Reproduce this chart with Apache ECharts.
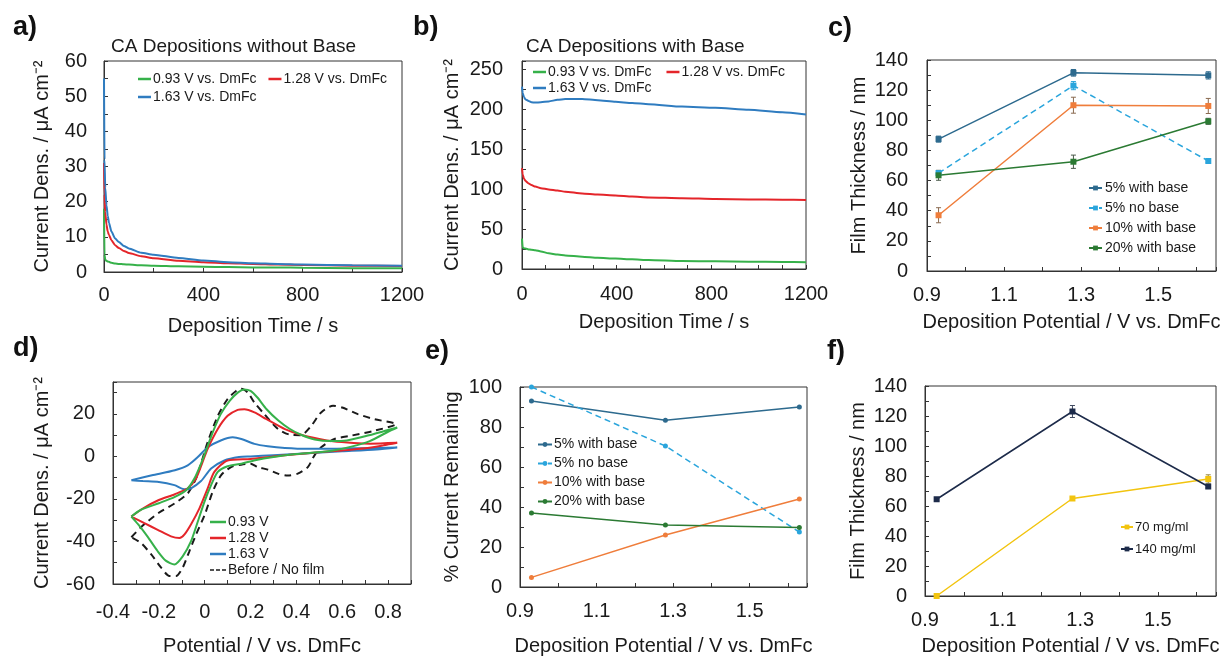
<!DOCTYPE html>
<html>
<head>
<meta charset="utf-8">
<title>Deposition panels</title>
<script src="https://cdn.jsdelivr.net/npm/echarts@6/dist/echarts.min.js"></script>
<style>
  html, body { margin: 0; padding: 0; background: #fff; }
  #chart { width: 1227px; height: 657px; }
</style>
</head>
<body>
<div id="chart"></div>
<script>
// a) CA depositions without base (time in s, current in uA/cm2)
const aTime = [0, 2, 5, 10, 15, 20, 30, 45, 60, 80, 100, 150, 200, 300, 400, 500, 600, 700, 800, 1000, 1200]
const aGreen = [18, 5, 3.5, 3.2, 3, 2.9, 2.6, 2.4, 2.3, 2.2, 2.1, 1.9, 1.8, 1.6, 1.5, 1.4, 1.3, 1.3, 1.2, 1.1, 1.1]
const aRed = [31, 22, 17, 13.5, 11.5, 10.5, 9, 7.6, 6.8, 6, 5.4, 4.5, 3.9, 3.2, 2.8, 2.5, 2.3, 2.1, 2, 1.8, 1.7]
const aBlue = [55, 32, 24, 19, 16, 14, 11.5, 9.5, 8.5, 7.4, 6.7, 5.5, 4.9, 4, 3.3, 2.8, 2.5, 2.3, 2.1, 1.9, 1.8]

// b) CA depositions with base
const bTime = [0, 3, 8, 15, 28, 40, 56, 80, 113, 150, 183, 254, 320, 395, 465, 535, 676, 817, 958, 1100, 1200]
const bGreen = [38, 27, 26, 25.5, 24.5, 24, 23.5, 22, 19.6, 18, 17, 15.4, 14, 13, 12.1, 11.3, 10, 9.6, 9.2, 8.8, 8.4]
const bRed = [126, 118, 113, 110, 107, 105, 103, 101, 99.5, 98, 96.7, 94.5, 93, 92, 90.5, 89.5, 88.5, 87.5, 87, 86.6, 86.3]
const bBlue = [228, 220, 215, 212, 210, 208.5, 208, 208.5, 209.5, 211.5, 212.5, 212.5, 211, 209, 207.5, 206, 203, 201.5, 199, 196, 193]

// c) film thickness vs deposition potential
const cPot = [0.93, 1.28, 1.63]
const c5Base = [87.5, 131.5, 129.8]
const c5BaseErr = [2, 2.2, 2.4]
const c5NoBase = [65, 123, 73]
const c5NoBaseErr = [1.5, 2.7, 1]
const c10Base = [37, 110, 109.5]
const c10BaseErr = [5, 5.3, 5]
const c20Base = [63.5, 72.5, 99.3]
const c20BaseErr = [3.3, 4.4, 2]

// d) cyclic voltammograms [potential, current]
const dGreen = [[-0.32,-28.3],[-0.28,-25.2],[-0.2,-22],[-0.13,-19],[-0.08,-15.8],[-0.045,-10.4],[-0.016,-3.4],[0.006,2.8],[0.035,11.3],[0.07,19.9],[0.108,26],[0.144,30],[0.173,31.5],[0.2,30.8],[0.23,27.7],[0.27,22.2],[0.32,17],[0.37,13],[0.42,10.2],[0.48,8],[0.55,7.2],[0.62,7.5],[0.7,9.5],[0.78,11.8],[0.84,13.6],
  [0.8,11.6],[0.72,7.2],[0.64,4.6],[0.56,2.8],[0.48,1.8],[0.4,1.1],[0.3,-0.3],[0.22,-1.8],[0.16,-3.4],[0.1,-4.6],[0.057,-7.3],[0.028,-13.5],[0,-21],[-0.03,-30.6],[-0.06,-40],[-0.096,-47],[-0.132,-50.8],[-0.17,-49],[-0.205,-44.6],[-0.25,-37.6],[-0.29,-32],[-0.32,-28.3]]
const dRed = [[-0.32,-28.3],[-0.27,-24.5],[-0.2,-20.5],[-0.13,-17.8],[-0.074,-15],[-0.038,-10.4],[-0.009,-2.6],[0.013,3.6],[0.057,12.9],[0.1,19.1],[0.144,21.9],[0.173,22.2],[0.217,20.7],[0.268,17.6],[0.35,12.8],[0.42,10.2],[0.5,8.2],[0.56,7.1],[0.65,6.3],[0.72,6],[0.84,6.4],
  [0.78,5.2],[0.7,3.8],[0.6,2.8],[0.5,2],[0.4,1],[0.3,0],[0.2,-1.2],[0.1,-1.9],[0.042,-7.3],[0.013,-15],[-0.023,-24.4],[-0.06,-32],[-0.089,-36.8],[-0.11,-38.4],[-0.147,-37.6],[-0.205,-34.5],[-0.263,-31.4],[-0.32,-28.3]]
const dBlue = [[-0.32,-11.2],[-0.23,-8.9],[-0.13,-6.5],[-0.074,-4.2],[-0.03,-0.3],[0.013,4.3],[0.07,7.5],[0.122,9],[0.16,8.2],[0.217,5.9],[0.275,4.8],[0.35,4],[0.45,3.6],[0.55,3.6],[0.65,3.8],[0.75,4],[0.84,4.2],
  [0.75,3.3],[0.6,2.4],[0.45,1.5],[0.3,0.6],[0.2,0],[0.15,-0.3],[0.086,-1.9],[0.028,-5.7],[-0.016,-11.6],[-0.06,-15],[-0.09,-15.4],[-0.132,-13.5],[-0.2,-12],[-0.27,-11.6],[-0.32,-11.2]]
const dBefore = [[-0.32,-38],[-0.27,-32.5],[-0.2,-26.5],[-0.13,-22],[-0.074,-17.4],[-0.038,-10.4],[-0.016,-3.4],[0.013,6.7],[0.057,19],[0.1,27],[0.137,30.8],[0.159,31.8],[0.188,30],[0.217,25.3],[0.26,19.9],[0.32,12.9],[0.377,10.1],[0.42,10],[0.465,14.4],[0.508,20.7],[0.56,23.8],[0.6,23],[0.668,19.9],[0.741,17.5],[0.835,15.2],
  [0.741,12.1],[0.64,9.8],[0.566,8.2],[0.508,4.3],[0.479,0.5],[0.45,-5],[0.406,-8.1],[0.362,-9],[0.319,-8.1],[0.275,-6.2],[0.231,-5],[0.2,-3.4],[0.159,-3.9],[0.115,-5],[0.071,-8.9],[0.035,-16.6],[0,-27.5],[-0.038,-36.8],[-0.067,-44.6],[-0.096,-52.3],[-0.125,-56.2],[-0.154,-56.2],[-0.19,-52.3],[-0.234,-46],[-0.278,-40.7],[-0.32,-38]]

// e) % current remaining
const ePot = [0.93, 1.28, 1.63]
const e5Base = [93, 83.4, 90]
const e5NoBase = [100, 70.5, 27.5]
const e10Base = [4.8, 26, 44]
const e20Base = [37, 31, 29.7]

// f) film thickness by concentration
const fPot = [0.93, 1.28, 1.63]
const f70 = [0, 65, 78]
const f70Err = [0.8, 1, 2.8]
const f140 = [64.5, 123, 73]
const f140Err = [1, 4, 1]

const FONT = "'Liberation Sans', Arial, Helvetica, sans-serif"
const INK = '#1a1a1a'
const GREEN = '#36b14a', RED = '#e4252a', BLUE = '#2f7cc0'
const C_DARK = '#2d6a8e', C_LIGHT = '#2aa5dc', C_ORANGE = '#ef7d3b', C_GREEN = '#2b7a33'
const F_YELLOW = '#f2c40f', F_NAVY = '#1d2b4a'
const DASH_ICON = 'path://M0,0H4V1.4H0Z M6,0H10V1.4H6Z M12,0H16V1.4H12Z'

const pairs = (xs, ys) => xs.map((x, i) => [x, ys[i]])
const triples = (xs, ys, es) => xs.map((x, i) => [x, ys[i], es[i]])

function axis(gi, min, max, interval, fmt, name, nameGap, margin) {
  return {
    gridIndex: gi, type: 'value', min, max, interval,
    name, nameLocation: 'middle', nameGap,
    nameTextStyle: { fontSize: 20, color: INK, fontFamily: FONT },
    axisLine: { onZero: false, lineStyle: { color: '#333' } },
    axisTick: { inside: true, length: 4, lineStyle: { color: '#333' } },
    axisLabel: { fontSize: 20, color: INK, fontFamily: FONT, margin, formatter: fmt },
    splitLine: { show: false },
  }
}

// label formatters: ticks are dense, only some carry text
const every = (step, upTo) => v => {
  const k = Math.round(v * 1000)
  const s = Math.round(step * 1000)
  if (k % s !== 0 || v > upTo + 1e-9) return ''
  return String(Math.round(v))
}
const potFmt = v => {
  const k = Math.round((v - 0.9) * 10)
  return (k % 2 === 0 && v < 1.6) ? v.toFixed(1) : ''
}
const cvFmt = v => {
  const k = Math.round(v * 10)
  if (k % 2 !== 0 || k > 8) return ''
  return k === 0 ? '0' : (k / 10).toFixed(1)
}

function errBars(xi, color, data) {
  return {
    type: 'custom', xAxisIndex: xi, yAxisIndex: xi, z: 3, silent: true,
    data,
    renderItem: (params, api) => {
      const x = api.value(0), y = api.value(1), e = api.value(2)
      const hi = api.coord([x, y + e]), lo = api.coord([x, y - e])
      const st = { stroke: color, lineWidth: 1 }
      return {
        type: 'group', children: [
          { type: 'line', shape: { x1: hi[0], y1: hi[1], x2: lo[0], y2: lo[1] }, style: st },
          { type: 'line', shape: { x1: hi[0] - 2.5, y1: hi[1], x2: hi[0] + 2.5, y2: hi[1] }, style: st },
          { type: 'line', shape: { x1: lo[0] - 2.5, y1: lo[1], x2: lo[0] + 2.5, y2: lo[1] }, style: st },
        ]
      }
    }
  }
}

function curve(name, xi, color, data, extra) {
  return Object.assign({
    name, type: 'line', xAxisIndex: xi, yAxisIndex: xi, data,
    symbol: 'none', smooth: 0.25, clip: true,
    lineStyle: { color, width: 2 }, itemStyle: { color },
  }, extra || {})
}
function dots(name, xi, color, data, symbol, dashed) {
  return {
    name, type: 'line', xAxisIndex: xi, yAxisIndex: xi, data,
    symbol, symbolSize: symbol === 'rect' ? 6 : 5, z: 4,
    lineStyle: { color, width: 1.5, type: dashed ? [6, 4] : 'solid' },
    itemStyle: { color },
  }
}

function legend(left, top, names, opts) {
  return Object.assign({
    left, top, data: names, padding: 0, itemGap: 12,
    itemWidth: 14, itemHeight: 6, selectedMode: false,
    textStyle: { fontSize: 14, color: INK, fontFamily: FONT, padding: [0, 0, 0, -3] },
  }, opts || {})
}
const lineLegend = { icon: 'rect', itemWidth: 13, itemHeight: 2.5 }

const N093 = '0.93 V vs. DmFc', N128 = '1.28 V vs. DmFc', N163 = '1.63 V vs. DmFc'

const mycharts = echarts.init(document.getElementById('chart'), null, { renderer: 'canvas' })
mycharts.setOption({
  backgroundColor: '#fff',
  animation: false,
  textStyle: { fontFamily: FONT },
  title: [
    { text: 'CA Depositions without Base', left: 111, top: 37, padding: 0, textStyle: { fontSize: 19, fontWeight: 'normal', color: INK, fontFamily: FONT } },
    { text: 'CA Depositions with Base', left: 526, top: 37, padding: 0, textStyle: { fontSize: 19, fontWeight: 'normal', color: INK, fontFamily: FONT } },
  ],
  graphic: [
    ['a)', 13, 14], ['b)', 413, 14], ['c)', 828, 15],
    ['d)', 13, 335], ['e)', 425, 338], ['f)', 827, 338],
  ].map(([t, l, tp]) => ({ type: 'text', left: l, top: tp, style: { text: t, font: 'bold 27px ' + FONT, fill: '#111' } })),
  grid: [
    { left: 104, top: 61, width: 298, height: 211 },
    { left: 522, top: 61, width: 284, height: 208 },
    { left: 927, top: 60, width: 289, height: 211 },
    { left: 113, top: 382, width: 298, height: 204 },
    { left: 520, top: 387, width: 287, height: 202 },
    { left: 925, top: 386, width: 291, height: 212 },
  ].map(g => Object.assign(g, { show: true, borderColor: '#333', borderWidth: 1, backgroundColor: 'transparent' })),
  xAxis: [
    axis(0, 0, 1200, 200, every(400, 1200), 'Deposition Time / s', 44, 13),
    axis(1, 0, 1200, 100, every(400, 1200), 'Deposition Time / s', 43, 15),
    axis(2, 0.9, 1.65, 0.1, potFmt, 'Deposition Potential / V vs. DmFc', 41, 14),
    axis(3, -0.4, 0.9, 0.1, cvFmt, 'Potential / V vs. DmFc', 52, 18),
    axis(4, 0.9, 1.65, 0.1, potFmt, 'Deposition Potential / V vs. DmFc', 49, 14),
    axis(5, 0.9, 1.65, 0.1, potFmt, 'Deposition Potential / V vs. DmFc', 40, 14),
  ],
  yAxis: [
    axis(0, 0, 60, 5, every(10, 60), 'Current Dens. / μA cm⁻²', 52, 17),
    axis(1, 0, 260, 25, every(50, 250), 'Current Dens. / μA cm⁻²', 60, 19),
    axis(2, 0, 140, 10, every(20, 140), 'Film Thickness / nm', 58, 19),
    axis(3, -60, 35, 10, every(20, 20), 'Current Dens. / μA cm⁻²', 61, 18),
    axis(4, 0, 100, 10, every(20, 100), '% Current Remaining', 58, 18),
    axis(5, 0, 140, 10, every(20, 140), 'Film Thickness / nm', 57, 18),
  ],
  legend: [
    legend(138, 72, [N093, N128], lineLegend),
    legend(138, 90, [N163], lineLegend),
    legend(533, 65, [N093, N128], Object.assign({ itemGap: 15 }, lineLegend)),
    legend(533, 81, [N163], lineLegend),
    legend(1088, 178, ['5% with base', '5% no base', '10% with base', '20% with base'],
      { orient: 'vertical', itemGap: 0, itemWidth: 13, itemHeight: 6, textStyle: { fontSize: 14, color: INK, fontFamily: FONT, lineHeight: 20, padding: [0, 0, 0, -2] } }),
    legend(210, 514, ['0.93 V', '1.28 V', '1.63 V', { name: 'Before / No film', icon: DASH_ICON }],
      { orient: 'vertical', itemGap: 0, icon: 'rect', itemWidth: 16, itemHeight: 2.5, textStyle: { fontSize: 14, color: INK, fontFamily: FONT, lineHeight: 16, padding: [0, 0, 0, -3] } }),
    legend(537, 435, ['5% with base ', '5% no base ', '10% with base ', '20% with base '],
      { orient: 'vertical', itemGap: 0, itemWidth: 14, textStyle: { fontSize: 14, color: INK, fontFamily: FONT, lineHeight: 19, padding: [0, 0, 0, -3] } }),
    legend(1120, 516, ['70 mg/ml', '140 mg/ml'],
      { orient: 'vertical', itemGap: 0, itemWidth: 12, textStyle: { fontSize: 13, color: INK, fontFamily: FONT, lineHeight: 22, padding: [0, 0, 0, -3] } }),
  ],
  series: [
    // a
    curve(N093, 0, GREEN, pairs(aTime, aGreen), { smooth: 0.2, smoothMonotone: 'x' }),
    curve(N128, 0, RED, pairs(aTime, aRed), { smooth: 0.2, smoothMonotone: 'x' }),
    curve(N163, 0, BLUE, pairs(aTime, aBlue), { smooth: 0.2, smoothMonotone: 'x' }),
    // b
    curve(N093, 1, GREEN, pairs(bTime, bGreen), { smooth: 0.2, smoothMonotone: 'x' }),
    curve(N128, 1, RED, pairs(bTime, bRed), { smooth: 0.2, smoothMonotone: 'x' }),
    curve(N163, 1, BLUE, pairs(bTime, bBlue), { smooth: 0.2, smoothMonotone: 'x' }),
    // c
    dots('5% with base', 2, C_DARK, pairs(cPot, c5Base), 'rect'),
    dots('5% no base', 2, C_LIGHT, pairs(cPot, c5NoBase), 'rect', true),
    dots('10% with base', 2, C_ORANGE, pairs(cPot, c10Base), 'rect'),
    dots('20% with base', 2, C_GREEN, pairs(cPot, c20Base), 'rect'),
    errBars(2, C_DARK, triples(cPot, c5Base, c5BaseErr)),
    errBars(2, C_LIGHT, triples(cPot, c5NoBase, c5NoBaseErr)),
    errBars(2, '#8a6a50', triples(cPot, c10Base, c10BaseErr)),
    errBars(2, '#4a5a4a', triples(cPot, c20Base, c20BaseErr)),
    // d
    curve('Before / No film', 3, INK, dBefore, { lineStyle: { color: INK, width: 2, type: [7, 5] } }),
    curve('1.63 V', 3, BLUE, dBlue),
    curve('1.28 V', 3, RED, dRed),
    curve('0.93 V', 3, GREEN, dGreen),
    // e
    dots('5% with base ', 4, C_DARK, pairs(ePot, e5Base), 'circle'),
    dots('5% no base ', 4, C_LIGHT, pairs(ePot, e5NoBase), 'circle', true),
    dots('10% with base ', 4, C_ORANGE, pairs(ePot, e10Base), 'circle'),
    dots('20% with base ', 4, C_GREEN, pairs(ePot, e20Base), 'circle'),
    // f
    dots('70 mg/ml', 5, F_YELLOW, pairs(fPot, f70), 'rect'),
    dots('140 mg/ml', 5, F_NAVY, pairs(fPot, f140), 'rect'),
    errBars(5, '#9a8a40', triples(fPot, f70, f70Err)),
    errBars(5, '#404a60', triples(fPot, f140, f140Err)),
  ],
})
</script>
</body>
</html>
